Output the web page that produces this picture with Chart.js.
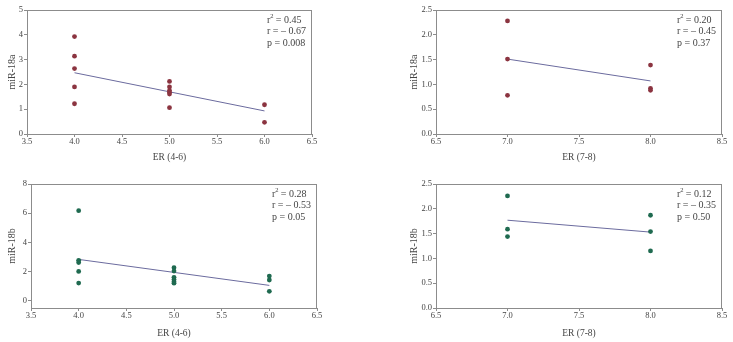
<!DOCTYPE html>
<html>
<head>
<meta charset="utf-8">
<script src="https://cdn.jsdelivr.net/npm/chart.js@4.4.1/dist/chart.umd.min.js"></script>
<style>
  body { margin: 0; background: #fff; }
  .wrap { position: relative; width: 733px; height: 342px; }
  canvas { position: absolute; }
</style>
</head>
<body>
<div class="wrap">
  <canvas id="c1" width="340" height="171" style="left:0;top:0"></canvas>
  <canvas id="c2" width="331" height="171" style="left:402px;top:0"></canvas>
  <canvas id="c3" width="340" height="171" style="left:0;top:171px"></canvas>
  <canvas id="c4" width="331" height="171" style="left:402px;top:171px"></canvas>
</div>
<script>
// miR-18a vs ER (4-6)
var er46a = [4, 4, 4, 4, 4, 5, 5, 5, 5, 5, 5, 6, 6];
var mir18a46 = [3.93, 3.14, 2.64, 1.90, 1.22, 2.12, 1.90, 1.75, 1.68, 1.61, 1.06, 1.18, 0.47];
var fit18a46 = [2.47, 0.93];

// miR-18a vs ER (7-8)
var er78a = [7, 7, 7, 8, 8, 8];
var mir18a78 = [2.28, 1.51, 0.78, 1.39, 0.92, 0.88];
var fit18a78 = [1.51, 1.07];

// miR-18b vs ER (4-6)
var er46b = [4, 4, 4, 4, 4, 5, 5, 5, 5, 5, 5, 6, 6, 6];
var mir18b46 = [6.17, 2.77, 2.62, 2.01, 1.21, 2.26, 2.03, 1.60, 1.45, 1.30, 1.20, 1.69, 1.42, 0.64];
var fit18b46 = [2.83, 1.05];

// miR-18b vs ER (7-8)
var er78b = [7, 7, 7, 8, 8, 8];
var mir18b78 = [2.26, 1.59, 1.44, 1.87, 1.54, 1.15];
var fit18b78 = [1.77, 1.53];

var stats18a46 = ['0.45', '0.67', '0.008'];
var stats18a78 = ['0.20', '0.45', '0.37'];
var stats18b46 = ['0.28', '0.53', '0.05'];
var stats18b78 = ['0.12', '0.35', '0.50'];

var FONT = '"Liberation Serif", "DejaVu Serif", serif';
var AXIS = '#8c8c8c';
var TEXT = '#444';

var framePlugin = {
    id: 'frame',
    afterDraw: function (chart) {
        var a = chart.chartArea, ctx = chart.ctx;
        ctx.save();
        ctx.strokeStyle = AXIS;
        ctx.lineWidth = 1;
        ctx.strokeRect(Math.round(a.left) + 0.5, Math.round(a.top) + 0.5,
            Math.round(a.right - a.left) - 1, Math.round(a.bottom - a.top));
        ctx.restore();
    }
};

var statsPlugin = {
    id: 'stats',
    afterDraw: function (chart, args, opts) {
        var a = chart.chartArea, ctx = chart.ctx;
        var x = a.right - 45, y = a.top + 10;
        ctx.save();
        ctx.fillStyle = TEXT;
        ctx.textBaseline = 'middle';
        ctx.font = '10px ' + FONT;
        ctx.fillText('r', x, y);
        var w = ctx.measureText('r').width;
        ctx.font = '6.5px ' + FONT;
        ctx.fillText('2', x + w, y - 4);
        ctx.font = '10px ' + FONT;
        ctx.fillText(' = ' + opts.v[0], x + w + 3, y);
        ctx.fillText('r = \u2013 ' + opts.v[1], x, y + 11.5);
        ctx.fillText('p = ' + opts.v[2], x, y + 23);
        ctx.restore();
    }
};

function create_panel(id, xs, ys, fit, stats, p) {
    var pts = xs.map(function (x, i) { return { x: x, y: ys[i] }; });
    var line = [{ x: p.xFit[0], y: fit[0] }, { x: p.xFit[1], y: fit[1] }];
    new Chart(document.getElementById(id).getContext('2d'), {
        type: 'scatter',
        data: {
            datasets: [{
                data: pts,
                backgroundColor: p.color,
                borderWidth: 0,
                pointRadius: 2.4
            }, {
                type: 'line',
                data: line,
                borderColor: '#6b6b9e',
                borderWidth: 1,
                pointRadius: 0,
                fill: false
            }]
        },
        options: {
            responsive: false,
            animation: false,
            layout: { padding: { top: p.top, right: p.right, left: 0, bottom: p.bottom } },
            plugins: { legend: { display: false }, tooltip: { enabled: false }, stats: { v: stats } },
            scales: {
                x: {
                    type: 'linear',
                    min: p.xMin, max: p.xMax,
                    afterFit: function (s) { s.height = p.xH; },
                    afterBuildTicks: function (s) { s.ticks = p.xTicks.map(function (v) { return { value: v }; }); },
                    grid: { drawOnChartArea: false, tickLength: 3, color: AXIS },
                    border: { color: AXIS },
                    ticks: {
                        padding: 0, color: TEXT, font: { family: FONT, size: 8.5 },
                        callback: function (v) { return v.toFixed(1); }
                    },
                    title: { display: true, text: p.xTitle, color: TEXT, font: { family: FONT, size: 9.5 }, padding: { top: 4, bottom: 0 } }
                },
                y: {
                    min: p.yMin, max: p.yMax,
                    afterFit: function (s) { s.width = p.yW; },
                    afterBuildTicks: function (s) { s.ticks = p.yTicks.map(function (v) { return { value: v }; }); },
                    grid: { drawOnChartArea: false, tickLength: 3, color: AXIS },
                    border: { color: AXIS },
                    ticks: {
                        padding: 1, color: TEXT, font: { family: FONT, size: 8.5 },
                        callback: function (v) { return p.yDec ? v.toFixed(1) : String(v); }
                    },
                    title: { display: true, text: p.yTitle, color: TEXT, font: { family: FONT, size: 10 }, padding: { top: 6, bottom: 2 } }
                }
            }
        },
        plugins: [framePlugin, statsPlugin]
    });
}

var red = '#8b3440', green = '#1f6a50';
var x46 = { xMin: 3.5, xMax: 6.5, xTicks: [3.5, 4, 4.5, 5, 5.5, 6, 6.5], xFit: [4, 6], xTitle: 'ER (4-6)' };
var x78 = { xMin: 6.5, xMax: 8.5, xTicks: [6.5, 7, 7.5, 8, 8.5], xFit: [7, 8], xTitle: 'ER (7-8)' };

function merge(a, b) { var o = {}; for (var k in a) o[k] = a[k]; for (var k2 in b) o[k2] = b[k2]; return o; }

create_panel('c1', er46a, mir18a46, fit18a46, stats18a46, merge(x46, {
    color: red, top: 10, right: 28, bottom: 8, yW: 27, xH: 29, yMin: 0, yMax: 5, yTicks: [0, 1, 2, 3, 4, 5], yDec: false, yTitle: 'miR-18a'
}));
create_panel('c2', er78a, mir18a78, fit18a78, stats18a78, merge(x78, {
    color: red, top: 10, right: 11, bottom: 8, yW: 34, xH: 29, yMin: 0, yMax: 2.5, yTicks: [0, 0.5, 1, 1.5, 2, 2.5], yDec: true, yTitle: 'miR-18a'
}));
create_panel('c3', er46b, mir18b46, fit18b46, stats18b46, merge(x46, {
    color: green, top: 13, right: 23, bottom: 3, yW: 31, xH: 31, yMin: -0.5, yMax: 8, yTicks: [0, 2, 4, 6, 8], yDec: false, yTitle: 'miR-18b'
}));
create_panel('c4', er78b, mir18b78, fit18b78, stats18b78, merge(x78, {
    color: green, top: 13, right: 11, bottom: 3, yW: 34, xH: 31, yMin: 0, yMax: 2.5, yTicks: [0, 0.5, 1, 1.5, 2, 2.5], yDec: true, yTitle: 'miR-18b'
}));
</script>
</body>
</html>
